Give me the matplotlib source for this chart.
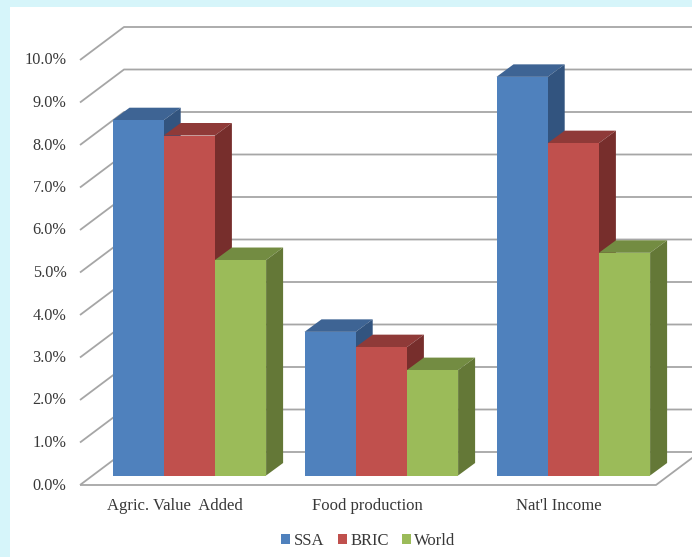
import matplotlib
matplotlib.use("Agg")
import matplotlib.pyplot as plt
from matplotlib.patches import Polygon, Rectangle, Patch

categories = ["Agric. Value  Added", "Food production", "Nat'l Income"]
ssa = [8.36, 3.38, 9.38]
bric = [8.0, 3.02, 7.82]
world = [5.07, 2.48, 5.24]
y_ticks = [0, 1, 2, 3, 4, 5, 6, 7, 8, 9, 10]

plt.rcParams["font.family"] = ["Liberation Serif", "DejaVu Sans"]

# (front, top, side) colours of each series
series = [
    ("SSA", ssa, "#4F81BD", "#3E6494", "#32547F"),
    ("BRIC", bric, "#C0504D", "#8F3A38", "#772E2C"),
    ("World", world, "#9BBB59", "#738C42", "#647837"),
]

W, H = 692, 557
x_unit = 192.0   # one category
y_unit = 42.5    # one percent
x0_px = 189.3    # centre of the first group
y0_px = 485.0    # front edge of the floor
text_color = "#383838"

fig = plt.figure(figsize=(W / 100, H / 100), dpi=100, facecolor="#D6F5FA")
ax = fig.add_axes([0, 0, 1, 1])
ax.set_xlim((0 - x0_px) / x_unit, (W - x0_px) / x_unit)
ax.set_ylim((y0_px - H) / y_unit, y0_px / y_unit)
ax.axis("off")

# white chart area
ax.add_patch(Rectangle((10 / W, 0), 1, 1 - 7 / H, transform=ax.transAxes,
                       facecolor="white", edgecolor="none", zorder=0))

# oblique offsets of the chart box and of the bars
wall_dx, wall_dy = 44 / x_unit, 33 / y_unit
bar_dx, bar_dy = 17 / x_unit, 12.5 / y_unit
inset_dy = 9.5 / y_unit
bar_w = 51.2 / x_unit
left = (80 - x0_px) / x_unit
right = (656 - x0_px) / x_unit
grid_kw = dict(color="#A6A6A6", lw=1.3, zorder=1, solid_capstyle="butt")

# gridlines on the side wall and back wall
for t in y_ticks:
    ax.plot([left, left + wall_dx, right + wall_dx],
            [t, t + wall_dy, t + wall_dy], **grid_kw)
    ax.text((66.5 - x0_px) / x_unit, t - 0.5 / y_unit, "%.1f%%" % t, ha="right",
            va="center", fontsize=11.7, color=text_color, zorder=5)

# front and right edge of the floor
ax.plot([left, right, right + wall_dx], [0, 0, wall_dy], **grid_kw)

# bars, left to right so each one covers the side of the previous
for g, name in enumerate(categories):
    for s, (label, values, front, top, side) in enumerate(series):
        x1 = g + (s - 1.5) * bar_w
        x2 = x1 + bar_w
        y1 = inset_dy
        y2 = inset_dy + values[g]
        z = 2 + g + s * 0.1
        ax.add_patch(Polygon([(x1, y2), (x2, y2), (x2 + bar_dx, y2 + bar_dy),
                              (x1 + bar_dx, y2 + bar_dy)],
                             facecolor=top, edgecolor="none", zorder=z))
        ax.add_patch(Polygon([(x2, y1), (x2 + bar_dx, y1 + bar_dy),
                              (x2 + bar_dx, y2 + bar_dy), (x2, y2)],
                             facecolor=side, edgecolor="none", zorder=z))
        ax.add_patch(Rectangle((x1, y1), bar_w, values[g],
                               facecolor=front, edgecolor="none", zorder=z))

# category labels sit under the front edge of the floor
for g, name in enumerate(categories):
    ax.text(g - 14 / x_unit, -21 / y_unit, name, ha="center", va="center",
            fontsize=12, color=text_color, zorder=5)

handles = [Patch(facecolor=c[2], edgecolor="none", label=c[0]) for c in series]
ax.legend(handles=handles, ncol=3, frameon=False, fontsize=12,
          labelcolor=text_color, loc="center",
          bbox_to_anchor=(368.5 / W, 1 - 541 / H),
          handlelength=0.55, handleheight=0.55, handletextpad=0.2,
          columnspacing=0.8, borderpad=0)

fig.savefig("out.png", dpi=100, facecolor=fig.get_facecolor())
